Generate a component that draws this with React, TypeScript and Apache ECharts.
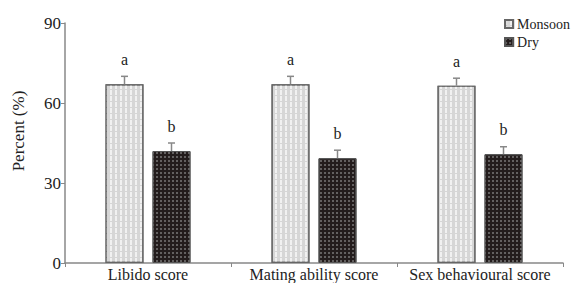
import React, { useEffect, useRef } from "react";
import * as echarts from "echarts";

const categories = ["Libido score", "Mating ability score", "Sex behavioural score"];
const monsoon = [67, 67, 66.5];
const dry = [42, 39.3, 40.8];
const monsoonErr = [3, 3, 2.8];
const dryErr = [3, 3, 2.8];
const monsoonLetters = ["a", "a", "a"];
const dryLetters = ["b", "b", "b"];
const yTicks = [0, 30, 60, 90];

const FONT = "Liberation Serif, Times New Roman, serif";
const BAR_W = 38;
const GAP = 9;

function errSeries(name: string, vals: number[], errs: number[], letters: string[], side: number) {
  return {
    type: "custom",
    name: name + "-err",
    silent: true,
    z: 5,
    data: vals.map((v, i) => [i, v, errs[i]]),
    renderItem: (params: any, api: any) => {
      const i = api.value(0);
      const v = api.value(1);
      const e = api.value(2);
      const base = api.coord([i, v]);
      const top = api.coord([i, v + e]);
      const x = base[0] + side * (BAR_W + GAP) / 2;
      return {
        type: "group",
        children: [
          { type: "line", shape: { x1: x, y1: base[1], x2: x, y2: top[1] }, style: { stroke: "#888", lineWidth: 1.5 } },
          { type: "line", shape: { x1: x - 3.5, y1: top[1], x2: x + 3.5, y2: top[1] }, style: { stroke: "#888", lineWidth: 1.5 } },
          {
            type: "text",
            x: x,
            y: top[1] - 9,
            style: { text: letters[params.dataIndex], fill: "#222", fontFamily: FONT, fontSize: 16, textAlign: "center", textVerticalAlign: "bottom" },
          },
        ],
      };
    },
  };
}

export default function App() {
  const ref = useRef<HTMLDivElement>(null);
  useEffect(() => {
    const chart = echarts.init(ref.current!, null, { renderer: "svg" });
    chart.setOption({
      animation: false,
      backgroundColor: "#fff",
      textStyle: { fontFamily: FONT },
      legend: {
        orient: "vertical",
        right: 0,
        top: 12,
        itemWidth: 8,
        itemHeight: 8,
        itemGap: 4,
        icon: "rect",
        data: ["Monsoon", "Dry"],
        textStyle: { fontFamily: FONT, fontSize: 14, color: "#222", padding: [0, 0, 0, -1] },
      },
      grid: { left: 65, right: 12, top: 23, bottom: 20 },
      xAxis: {
        type: "category",
        data: categories,
        axisLine: { lineStyle: { color: "#888", width: 1.5 } },
        axisTick: { show: true, alignWithLabel: false, length: 4, lineStyle: { color: "#888" } },
        axisLabel: { fontFamily: FONT, fontSize: 16, color: "#222", margin: 3, interval: 0, hideOverlap: false },
      },
      yAxis: {
        type: "value",
        min: 0,
        max: 90,
        interval: 30,
        name: "Percent (%)",
        nameLocation: "middle",
        nameGap: 38,
        nameTextStyle: { fontFamily: FONT, fontSize: 17, color: "#222", padding: [0, 0, 0, 24] },
        splitLine: { show: false },
        axisLine: { show: true, lineStyle: { color: "#888", width: 1.5 } },
        axisTick: { show: true, length: 4, lineStyle: { color: "#888" } },
        axisLabel: { fontFamily: FONT, fontSize: 17, color: "#222", margin: 4, customValues: yTicks },
      },
      series: [
        {
          name: "Monsoon",
          type: "bar",
          barWidth: BAR_W,
          barGap: `${(GAP / BAR_W) * 100}%`,
          data: monsoon,
          itemStyle: {
            color: "#d6d6d6",
            borderColor: "#666",
            borderWidth: 1.2,
            decal: {
              symbol: "rect",
              color: "rgba(255,255,255,0.65)",
              dashArrayX: [[2, 3]],
              dashArrayY: [5, 1],
              rotation: 0,
            },
          },
        },
        {
          name: "Dry",
          type: "bar",
          barWidth: BAR_W,
          data: dry,
          itemStyle: {
            color: "#231c1c",
            borderColor: "#555",
            borderWidth: 1,
            decal: {
              symbol: "rect",
              color: "rgba(150,150,150,0.55)",
              dashArrayX: [[2, 2]],
              dashArrayY: [2, 2],
              rotation: 0,
            },
          },
        },
        errSeries("Monsoon", monsoon, monsoonErr, monsoonLetters, -1),
        errSeries("Dry", dry, dryErr, dryLetters, 1),
      ],
    });
    return () => chart.dispose();
  }, []);
  return <div ref={ref} style={{ width: 575, height: 283, position: "absolute", left: 0, top: 0 }} />;
}
